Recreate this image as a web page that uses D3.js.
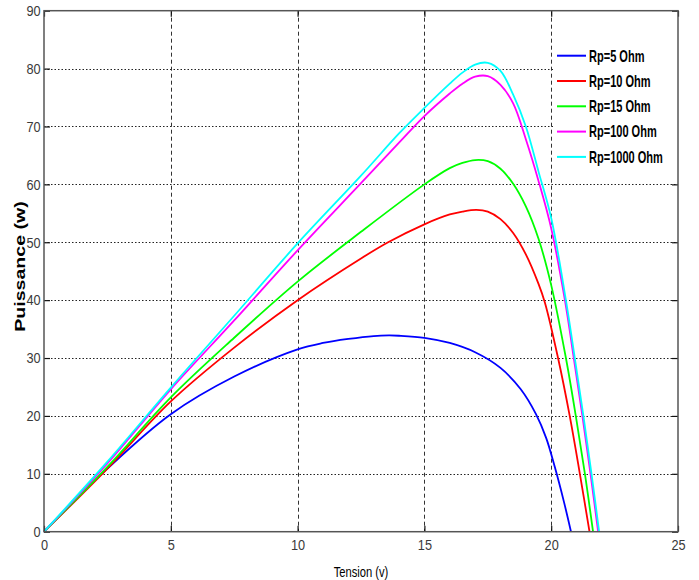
<!DOCTYPE html>
<html>
<head>
<meta charset="utf-8">
<script src="https://cdn.jsdelivr.net/npm/d3@7"></script>
<style>
  html, body { margin: 0; padding: 0; background: #fff; }
  svg { display: block; }
</style>
</head>
<body>
<svg id="chart" width="699" height="580"></svg>
<script>
// ---- data ----
const seriesNames = ["Rp=5 Ohm", "Rp=10 Ohm", "Rp=15 Ohm", "Rp=100 Ohm", "Rp=1000 Ohm"];
const seriesColors = ["#0000ff", "#ff0000", "#00ff00", "#ff00ff", "#00ffff"];

const v5 = [0, 2.5, 5, 7.5, 10, 11, 12, 13, 13.6, 14, 15, 16, 17, 18, 18.8, 19.4, 19.8, 20.14, 20.5, 20.78];
const p5 = [0, 10.9, 20.3, 26.8, 31.5, 32.6, 33.3, 33.8, 33.9, 33.85, 33.5, 32.6, 31.0, 28.3, 24.6, 20.3, 16.2, 11.2, 5.2, 0];

const v10 = [0, 2.5, 5, 7.5, 10, 12.5, 13.57, 15, 16, 16.5, 17.05, 17.5, 18, 18.5, 19, 19.5, 19.75, 20.27, 20.73, 21.13, 21.51];
const p10 = [0, 10.9, 22.5, 31.8, 40, 47.2, 50, 53.1, 54.8, 55.3, 55.6, 55.3, 54.0, 51.6, 47.9, 42.8, 39.6, 30, 20, 10, 0];

const v15 = [0, 2.5, 5, 7.5, 10, 12.5, 15, 16, 16.5, 17, 17.5, 18, 18.5, 19, 19.5, 20, 20.58, 20.97, 21.33, 21.65];
const p15 = [0, 11.2, 23.2, 33.5, 43.2, 51.8, 60, 62.8, 63.7, 64.2, 64.0, 62.7, 60.1, 56.2, 50.6, 42.6, 30, 20, 10, 0];

const v100 = [0, 2.5, 5, 7.5, 10, 12.5, 14, 15, 16, 16.5, 17, 17.5, 18, 18.5, 19, 19.5, 20, 20.54, 20.89, 21.23, 21.55, 21.85];
const p100 = [0, 11.8, 24.6, 36.5, 48.6, 60.2, 67.2, 71.8, 75.7, 77.4, 78.6, 78.7, 77.2, 74.0, 67.8, 60.6, 52.4, 40, 30, 20, 10, 0];

const v1000 = [0, 2.5, 5, 7.5, 10, 12.5, 14, 15, 16, 16.5, 17, 17.5, 18, 18.5, 19, 19.5, 20, 20.58, 20.93, 21.27, 21.59, 21.89];
const p1000 = [0, 12.1, 24.9, 37.3, 49.8, 61.5, 68.8, 73.2, 77.4, 79.3, 80.7, 81.0, 79.6, 75.5, 70.0, 62.2, 54.2, 40, 30, 20, 10, 0];

const xTicks = [0, 5, 10, 15, 20, 25];
const yTicks = [0, 10, 20, 30, 40, 50, 60, 70, 80, 90];
const xLabel = "Tension (v)";
const yLabel = "Puissance (w)";

const seriesV = [v5, v10, v15, v100, v1000];
const seriesP = [p5, p10, p15, p100, p1000];

// ---- layout ----
const L = 44, R = 678, T = 10.7, B = 531.7;
const svg = d3.select("#chart");
const x = d3.scaleLinear().domain([0, 25]).range([L, R]);
const y = d3.scaleLinear().domain([0, 90]).range([B, T]);
const sans = "'Liberation Sans', Arial, sans-serif";
const NARROW = 0.85;

// grid
const grid = svg.append("g");
grid.selectAll("line.h").data(yTicks.filter(d => d > 0 && d < 90)).enter().append("line")
  .attr("x1", L).attr("x2", R).attr("y1", d => Math.round(y(d)) + 0.5).attr("y2", d => Math.round(y(d)) + 0.5)
  .attr("stroke", "#222").attr("stroke-width", 1).attr("stroke-dasharray", "1.5,2");
grid.selectAll("line.v").data(xTicks.filter(d => d > 0 && d < 25)).enter().append("line")
  .attr("x1", d => Math.round(x(d)) + 0.5).attr("x2", d => Math.round(x(d)) + 0.5).attr("y1", T).attr("y2", B)
  .attr("stroke", "#333").attr("stroke-width", 1).attr("stroke-dasharray", "4,3");

// curves
const line = d3.line().x(d => x(d[0])).y(d => y(d[1])).curve(d3.curveCatmullRom.alpha(0.5));
const curves = svg.append("g");
seriesV.forEach((vs, i) => {
  const pts = vs.map((v, k) => [v, seriesP[i][k]]);
  curves.append("path").datum(pts)
    .attr("d", line).attr("fill", "none")
    .attr("stroke", seriesColors[i]).attr("stroke-width", 1.8)
    .attr("stroke-linejoin", "round");
});

// axes
const axColor = "#555";
function styleAxis(g, labels) {
  g.select(".domain").remove();
  g.selectAll(".tick line").attr("stroke", "#111").attr("stroke-width", 1.2);
  g.selectAll(".tick text").attr("fill", labels ? "#3a3a3a" : "none")
    .attr("transform", `scale(${NARROW},1)`)
    .style("font-family", sans).style("font-size", "15px");
}
svg.append("g").attr("transform", `translate(0,${B})`)
  .call(d3.axisBottom(x).tickValues(xTicks).tickFormat(d3.format("d")).tickSizeInner(-6).tickSizeOuter(0).tickPadding(8))
  .call(g => styleAxis(g, true));
svg.append("g").attr("transform", `translate(${L},0)`)
  .call(d3.axisLeft(y).tickValues(yTicks).tickFormat(d3.format("d")).tickSizeInner(-6).tickSizeOuter(0).tickPadding(4))
  .call(g => styleAxis(g, true));
svg.append("g").attr("transform", `translate(0,${T})`)
  .call(d3.axisTop(x).tickValues(xTicks).tickFormat("").tickSizeInner(-6).tickSizeOuter(0))
  .call(g => styleAxis(g, false));
svg.append("g").attr("transform", `translate(${R},0)`)
  .call(d3.axisRight(y).tickValues(yTicks).tickFormat("").tickSizeInner(-6).tickSizeOuter(0))
  .call(g => styleAxis(g, false));

// legend
const lg = svg.append("g");
lg.append("rect").attr("x", 553).attr("y", 33).attr("width", R - 553).attr("height", 140).attr("fill", "#fff");
seriesNames.forEach((name, i) => {
  const cy = 55.7 + i * 25.3;
  lg.append("line").attr("x1", 557).attr("x2", 586).attr("y1", cy).attr("y2", cy)
    .attr("stroke", seriesColors[i]).attr("stroke-width", 2);
  lg.append("g").attr("transform", `translate(589,${cy + 5.8}) scale(0.69,1)`)
    .append("text").text(name)
    .attr("fill", "#000").style("font-family", sans).style("font-weight", "bold").style("font-size", "16px");
});

// frame
svg.append("rect").attr("x", L).attr("y", T).attr("width", R - L).attr("height", B - T)
  .attr("fill", "none").attr("stroke", axColor).attr("stroke-width", 1.5);

// axis labels
svg.append("g").attr("transform", `translate(${(L + R) / 2},577) scale(0.8,1)`)
  .append("text").attr("text-anchor", "middle")
  .text(xLabel).attr("fill", "#000").style("font-family", sans).style("font-size", "14px");
svg.append("g").attr("transform", `translate(25,266.5) rotate(-90) scale(1.4,1)`)
  .append("text").attr("text-anchor", "middle")
  .text(yLabel).attr("fill", "#000").style("font-family", sans)
  .style("font-weight", "bold").style("font-size", "14px");
</script>
</body>
</html>
